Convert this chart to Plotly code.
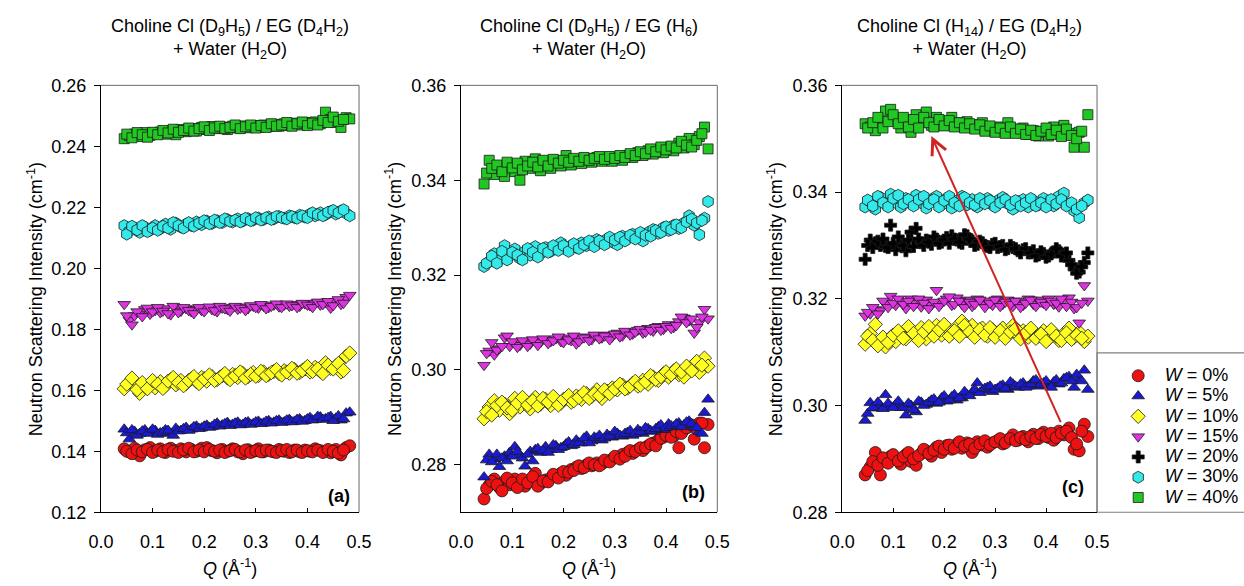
import plotly.graph_objects as go

# ---------------- data ----------------
# two interleaved Q grids (the reference shows densely packed points)
Q = [0.045, 0.055, 0.065, 0.075, 0.085, 0.095, 0.105, 0.115, 0.125, 0.135,
     0.145, 0.155, 0.165, 0.175, 0.185, 0.195, 0.205, 0.215, 0.225, 0.235,
     0.245, 0.255, 0.265, 0.275, 0.285, 0.295, 0.305, 0.315, 0.325, 0.335,
     0.345, 0.355, 0.365, 0.375, 0.385, 0.395, 0.405, 0.415, 0.425, 0.435,
     0.445, 0.455, 0.465, 0.475, 0.482]
Q2 = [0.050, 0.060, 0.070, 0.080, 0.090, 0.100, 0.110, 0.120, 0.130, 0.140,
      0.150, 0.160, 0.170, 0.180, 0.190, 0.200, 0.210, 0.220, 0.230, 0.240,
      0.250, 0.260, 0.270, 0.280, 0.290, 0.300, 0.310, 0.320, 0.330, 0.340,
      0.350, 0.360, 0.370, 0.380, 0.390, 0.400, 0.410, 0.420, 0.430, 0.440,
      0.450, 0.460, 0.470]

water_labels = ["0%", "5%", "10%", "15%", "20%", "30%", "40%"]

panel_titles = [
    "Choline Cl (D<sub>9</sub>H<sub>5</sub>) / EG (D<sub>4</sub>H<sub>2</sub>)<br>+ Water (H<sub>2</sub>O)",
    "Choline Cl (D<sub>9</sub>H<sub>5</sub>) / EG (H<sub>6</sub>)<br>+ Water (H<sub>2</sub>O)",
    "Choline Cl (H<sub>14</sub>) / EG (D<sub>4</sub>H<sub>2</sub>)<br>+ Water (H<sub>2</sub>O)",
]
panel_tags = ["(a)", "(b)", "(c)"]

# ---- panel (a) ----
a_w0 = [0.1408, 0.1398, 0.1410, 0.1385, 0.1405, 0.1412, 0.1400, 0.1408, 0.1396, 0.1410,
        0.1402, 0.1408, 0.1398, 0.1406, 0.1400, 0.1410, 0.1412, 0.1402, 0.1395, 0.1406,
        0.1400, 0.1408, 0.1398, 0.1392, 0.1405, 0.1400, 0.1408, 0.1398, 0.1404, 0.1398,
        0.1406, 0.1400, 0.1396, 0.1404, 0.1398, 0.1404, 0.1400, 0.1408, 0.1402, 0.1400,
        0.1395, 0.1406, 0.1388, 0.1412, 0.1418]
a_w0_b = [0.1400, 0.1392, 0.1404, 0.1398, 0.1406, 0.1396, 0.1404, 0.1398, 0.1406, 0.1400,
          0.1396, 0.1404, 0.1410, 0.1398, 0.1404, 0.1398, 0.1406, 0.1400, 0.1404, 0.1396,
          0.1402, 0.1406, 0.1398, 0.1404, 0.1396, 0.1402, 0.1398, 0.1404, 0.1400, 0.1396,
          0.1402, 0.1406, 0.1398, 0.1404, 0.1396, 0.1402, 0.1398, 0.1404, 0.1396, 0.1406,
          0.1400, 0.1394, 0.1404]
a_w5 = [0.1472, 0.1440, 0.1465, 0.1458, 0.1470, 0.1462, 0.1468, 0.1460, 0.1470, 0.1458,
        0.1475, 0.1468, 0.1478, 0.1472, 0.1482, 0.1476, 0.1485, 0.1480, 0.1492, 0.1486,
        0.1494, 0.1488, 0.1495, 0.1488, 0.1496, 0.1490, 0.1498, 0.1492, 0.1500, 0.1495,
        0.1502, 0.1496, 0.1504, 0.1498, 0.1506, 0.1500, 0.1510, 0.1504, 0.1512, 0.1506,
        0.1514, 0.1508, 0.1502, 0.1525, 0.1528]
a_w5_b = [0.1460, 0.1470, 0.1452, 0.1466, 0.1458, 0.1472, 0.1455, 0.1462, 0.1468, 0.1452,
          0.1466, 0.1474, 0.1468, 0.1480, 0.1474, 0.1482, 0.1478, 0.1488, 0.1482, 0.1490,
          0.1484, 0.1492, 0.1486, 0.1494, 0.1488, 0.1496, 0.1490, 0.1498, 0.1492, 0.1500,
          0.1494, 0.1502, 0.1496, 0.1504, 0.1498, 0.1506, 0.1502, 0.1514, 0.1504, 0.1510,
          0.1500, 0.1516, 0.1506]
a_w10 = [0.1605, 0.1628, 0.1615, 0.1590, 0.1612, 0.1622, 0.1608, 0.1628, 0.1615, 0.1635,
         0.1618, 0.1632, 0.1622, 0.1638, 0.1628, 0.1642, 0.1630, 0.1645, 0.1635, 0.1648,
         0.1640, 0.1652, 0.1642, 0.1655, 0.1645, 0.1658, 0.1648, 0.1660, 0.1652, 0.1662,
         0.1655, 0.1664, 0.1656, 0.1668, 0.1658, 0.1670, 0.1660, 0.1675, 0.1662, 0.1690,
         0.1672, 0.1680, 0.1660, 0.1712, 0.1722]
a_w10_b = [0.1620, 0.1640, 0.1602, 0.1625, 0.1605, 0.1632, 0.1620, 0.1606, 0.1630, 0.1642,
           0.1625, 0.1615, 0.1632, 0.1645, 0.1622, 0.1638, 0.1650, 0.1632, 0.1642, 0.1655,
           0.1635, 0.1648, 0.1660, 0.1640, 0.1652, 0.1646, 0.1662, 0.1648, 0.1658, 0.1668,
           0.1650, 0.1660, 0.1672, 0.1656, 0.1665, 0.1678, 0.1662, 0.1670, 0.1655, 0.1682,
           0.1670, 0.1688, 0.1665]
a_w15 = [0.1882, 0.1830, 0.1845, 0.1855, 0.1865, 0.1850, 0.1862, 0.1855, 0.1868, 0.1848,
         0.1870, 0.1860, 0.1868, 0.1858, 0.1866, 0.1862, 0.1870, 0.1865, 0.1858, 0.1870,
         0.1866, 0.1872, 0.1866, 0.1874, 0.1868, 0.1876, 0.1870, 0.1876, 0.1872, 0.1880,
         0.1874, 0.1880, 0.1876, 0.1882, 0.1876, 0.1884, 0.1878, 0.1886, 0.1880, 0.1888,
         0.1870, 0.1892, 0.1882, 0.1905, 0.1912]
a_w15_b = [0.1845, 0.1815, 0.1858, 0.1842, 0.1870, 0.1858, 0.1872, 0.1860, 0.1852, 0.1876,
           0.1855, 0.1872, 0.1862, 0.1852, 0.1872, 0.1858, 0.1874, 0.1862, 0.1876, 0.1868,
           0.1860, 0.1876, 0.1870, 0.1862, 0.1878, 0.1872, 0.1882, 0.1868, 0.1876, 0.1884,
           0.1872, 0.1884, 0.1878, 0.1872, 0.1886, 0.1880, 0.1872, 0.1890, 0.1882, 0.1892,
           0.1878, 0.1898, 0.1886]
a_w30 = [0.2140, 0.2122, 0.2132, 0.2118, 0.2135, 0.2125, 0.2140, 0.2130, 0.2145, 0.2128,
         0.2148, 0.2135, 0.2145, 0.2140, 0.2152, 0.2143, 0.2155, 0.2147, 0.2156, 0.2150,
         0.2160, 0.2152, 0.2162, 0.2155, 0.2163, 0.2158, 0.2165, 0.2160, 0.2168, 0.2162,
         0.2170, 0.2164, 0.2172, 0.2166, 0.2174, 0.2168, 0.2178, 0.2172, 0.2182, 0.2176,
         0.2186, 0.2178, 0.2188, 0.2180, 0.2172]
a_w30_b = [0.2112, 0.2138, 0.2126, 0.2140, 0.2120, 0.2132, 0.2125, 0.2138, 0.2132, 0.2150,
           0.2140, 0.2132, 0.2150, 0.2138, 0.2148, 0.2156, 0.2146, 0.2158, 0.2150, 0.2162,
           0.2154, 0.2158, 0.2152, 0.2164, 0.2156, 0.2166, 0.2158, 0.2166, 0.2160, 0.2170,
           0.2166, 0.2162, 0.2170, 0.2164, 0.2172, 0.2166, 0.2182, 0.2176, 0.2172, 0.2184,
           0.2190, 0.2182, 0.2192]
a_w40 = [0.2425, 0.2436, 0.2440, 0.2432, 0.2445, 0.2436, 0.2443, 0.2447, 0.2440, 0.2450,
         0.2438, 0.2455, 0.2448, 0.2458, 0.2450, 0.2462, 0.2455, 0.2465, 0.2458, 0.2463,
         0.2455, 0.2466, 0.2460, 0.2467, 0.2461, 0.2468, 0.2462, 0.2470, 0.2465, 0.2472,
         0.2466, 0.2474, 0.2468, 0.2476, 0.2470, 0.2478, 0.2472, 0.2480, 0.2474, 0.2512,
         0.2488, 0.2478, 0.2462, 0.2494, 0.2490]
a_w40_b = [0.2440, 0.2428, 0.2445, 0.2438, 0.2430, 0.2446, 0.2438, 0.2452, 0.2444, 0.2456,
           0.2446, 0.2452, 0.2460, 0.2450, 0.2458, 0.2464, 0.2452, 0.2460, 0.2466, 0.2458,
           0.2462, 0.2470, 0.2458, 0.2464, 0.2470, 0.2460, 0.2468, 0.2462, 0.2474, 0.2466,
           0.2470, 0.2478, 0.2466, 0.2474, 0.2480, 0.2468, 0.2476, 0.2470, 0.2485, 0.2478,
           0.2496, 0.2482, 0.2488]

# ---- panel (b) ----
b_w0 = [0.2728, 0.2757, 0.2770, 0.2752, 0.2765, 0.2758, 0.2770, 0.2762, 0.2755, 0.2768,
        0.2782, 0.2760, 0.2768, 0.2772, 0.2776, 0.2782, 0.2778, 0.2790, 0.2795, 0.2792,
        0.2800, 0.2798, 0.2804, 0.2802, 0.2808, 0.2812, 0.2816, 0.2822, 0.2826, 0.2824,
        0.2832, 0.2830, 0.2840, 0.2846, 0.2852, 0.2858, 0.2866, 0.2860, 0.2836, 0.2874,
        0.2880, 0.2854, 0.2888, 0.2836, 0.2885]
b_w0_b = [0.2750, 0.2765, 0.2758, 0.2745, 0.2772, 0.2762, 0.2752, 0.2770, 0.2762, 0.2775,
          0.2755, 0.2766, 0.2764, 0.2780, 0.2772, 0.2786, 0.2784, 0.2788, 0.2798, 0.2794,
          0.2804, 0.2800, 0.2798, 0.2810, 0.2806, 0.2818, 0.2812, 0.2818, 0.2830, 0.2828,
          0.2836, 0.2836, 0.2844, 0.2840, 0.2856, 0.2862, 0.2858, 0.2870, 0.2866, 0.2878,
          0.2884, 0.2876, 0.2888]
b_w5 = [0.2774, 0.2822, 0.2812, 0.2796, 0.2818, 0.2826, 0.2838, 0.2820, 0.2797, 0.2828,
        0.2832, 0.2826, 0.2838, 0.2832, 0.2840, 0.2836, 0.2844, 0.2840, 0.2852, 0.2846,
        0.2860, 0.2850, 0.2856, 0.2852, 0.2864, 0.2858, 0.2866, 0.2860, 0.2868, 0.2862,
        0.2874, 0.2866, 0.2876, 0.2870, 0.2880, 0.2874, 0.2886, 0.2880, 0.2888, 0.2884,
        0.2892, 0.2880, 0.2870, 0.2910, 0.2938]
b_w5_b = [0.2810, 0.2806, 0.2822, 0.2814, 0.2808, 0.2818, 0.2828, 0.2814, 0.2822, 0.2808,
          0.2834, 0.2830, 0.2826, 0.2842, 0.2832, 0.2838, 0.2848, 0.2842, 0.2846, 0.2856,
          0.2846, 0.2858, 0.2862, 0.2856, 0.2860, 0.2870, 0.2862, 0.2866, 0.2872, 0.2866,
          0.2870, 0.2878, 0.2872, 0.2876, 0.2884, 0.2878, 0.2882, 0.2886, 0.2880, 0.2890,
          0.2886, 0.2878, 0.2866]
b_w10 = [0.2897, 0.2922, 0.2935, 0.2915, 0.2928, 0.2908, 0.2940, 0.2922, 0.2932, 0.2918,
         0.2942, 0.2928, 0.2938, 0.2925, 0.2935, 0.2930, 0.2940, 0.2932, 0.2945, 0.2938,
         0.2950, 0.2944, 0.2958, 0.2940, 0.2955, 0.2962, 0.2958, 0.2968, 0.2962, 0.2972,
         0.2966, 0.2978, 0.2970, 0.2985, 0.2978, 0.2992, 0.2985, 0.2998, 0.2990, 0.2985,
         0.3004, 0.3012, 0.2995, 0.3025, 0.3008]
b_w10_b = [0.2912, 0.2905, 0.2925, 0.2932, 0.2920, 0.2915, 0.2930, 0.2942, 0.2926, 0.2935,
           0.2924, 0.2940, 0.2932, 0.2944, 0.2926, 0.2938, 0.2946, 0.2935, 0.2942, 0.2952,
           0.2940, 0.2950, 0.2946, 0.2958, 0.2950, 0.2960, 0.2970, 0.2960, 0.2966, 0.2976,
           0.2968, 0.2975, 0.2988, 0.2980, 0.2986, 0.2996, 0.2990, 0.3002, 0.2996, 0.3008,
           0.2998, 0.3018, 0.3010]
b_w15 = [0.3010, 0.3040, 0.3032, 0.3045, 0.3068, 0.3050, 0.3058, 0.3052, 0.3060, 0.3055,
         0.3062, 0.3058, 0.3064, 0.3060, 0.3066, 0.3060, 0.3068, 0.3062, 0.3055, 0.3066,
         0.3070, 0.3064, 0.3072, 0.3068, 0.3074, 0.3070, 0.3078, 0.3072, 0.3080, 0.3076,
         0.3084, 0.3078, 0.3088, 0.3082, 0.3092, 0.3086, 0.3096, 0.3090, 0.3102, 0.3110,
         0.3104, 0.3078, 0.3100, 0.3128, 0.3108]
b_w15_b = [0.3035, 0.3058, 0.3042, 0.3050, 0.3072, 0.3060, 0.3048, 0.3062, 0.3050, 0.3064,
           0.3052, 0.3066, 0.3056, 0.3062, 0.3070, 0.3058, 0.3064, 0.3072, 0.3060, 0.3068,
           0.3062, 0.3074, 0.3066, 0.3072, 0.3064, 0.3076, 0.3070, 0.3082, 0.3074, 0.3080,
           0.3086, 0.3080, 0.3084, 0.3090, 0.3084, 0.3092, 0.3088, 0.3094, 0.3112, 0.3100,
           0.3108, 0.3090, 0.3112]
b_w30 = [0.3218, 0.3228, 0.3245, 0.3232, 0.3262, 0.3240, 0.3255, 0.3235, 0.3250, 0.3242,
         0.3260, 0.3245, 0.3258, 0.3250, 0.3256, 0.3268, 0.3255, 0.3262, 0.3258, 0.3268,
         0.3262, 0.3270, 0.3275, 0.3268, 0.3276, 0.3270, 0.3264, 0.3282, 0.3278, 0.3286,
         0.3280, 0.3272, 0.3290, 0.3296, 0.3288, 0.3300, 0.3294, 0.3305, 0.3298, 0.3310,
         0.3325, 0.3305, 0.3285, 0.3320, 0.3355]
b_w30_b = [0.3225, 0.3240, 0.3225, 0.3250, 0.3232, 0.3248, 0.3242, 0.3232, 0.3256, 0.3248,
           0.3238, 0.3256, 0.3248, 0.3262, 0.3252, 0.3262, 0.3250, 0.3266, 0.3256, 0.3264,
           0.3272, 0.3260, 0.3272, 0.3264, 0.3280, 0.3274, 0.3280, 0.3272, 0.3284, 0.3276,
           0.3290, 0.3284, 0.3282, 0.3294, 0.3290, 0.3302, 0.3296, 0.3306, 0.3300, 0.3312,
           0.3318, 0.3310, 0.3315]
b_w40 = [0.3392, 0.3442, 0.3412, 0.3425, 0.3408, 0.3430, 0.3418, 0.3400, 0.3440, 0.3425,
         0.3445, 0.3420, 0.3438, 0.3425, 0.3440, 0.3430, 0.3452, 0.3432, 0.3440, 0.3435,
         0.3445, 0.3438, 0.3448, 0.3440, 0.3446, 0.3440, 0.3448, 0.3442, 0.3452, 0.3448,
         0.3458, 0.3452, 0.3462, 0.3455, 0.3465, 0.3458, 0.3468, 0.3462, 0.3478, 0.3468,
         0.3488, 0.3475, 0.3492, 0.3512, 0.3466]
b_w40_b = [0.3415, 0.3425, 0.3432, 0.3418, 0.3438, 0.3426, 0.3436, 0.3422, 0.3430, 0.3438,
           0.3428, 0.3442, 0.3430, 0.3444, 0.3436, 0.3442, 0.3438, 0.3446, 0.3440, 0.3448,
           0.3442, 0.3446, 0.3450, 0.3444, 0.3450, 0.3446, 0.3452, 0.3448, 0.3456, 0.3452,
           0.3460, 0.3456, 0.3466, 0.3460, 0.3470, 0.3464, 0.3472, 0.3468, 0.3482, 0.3474,
           0.3470, 0.3484, 0.3498]

# ---- panel (c) ----
c_w0 = [0.2870, 0.2885, 0.2912, 0.2870, 0.2898, 0.2905, 0.2900, 0.2890, 0.2908, 0.2895,
        0.2888, 0.2910, 0.2915, 0.2905, 0.2922, 0.2912, 0.2925, 0.2918, 0.2928, 0.2920,
        0.2930, 0.2912, 0.2932, 0.2926, 0.2922, 0.2930, 0.2934, 0.2928, 0.2936, 0.2945,
        0.2935, 0.2942, 0.2932, 0.2946, 0.2938, 0.2950, 0.2940, 0.2935, 0.2952, 0.2945,
        0.2958, 0.2918, 0.2915, 0.2965, 0.2942]
c_w0_b = [0.2878, 0.2895, 0.2888, 0.2902, 0.2892, 0.2908, 0.2896, 0.2904, 0.2912, 0.2900,
          0.2906, 0.2918, 0.2910, 0.2916, 0.2924, 0.2918, 0.2926, 0.2920, 0.2932, 0.2924,
          0.2928, 0.2920, 0.2928, 0.2934, 0.2926, 0.2932, 0.2938, 0.2930, 0.2938, 0.2934,
          0.2940, 0.2936, 0.2942, 0.2938, 0.2946, 0.2942, 0.2948, 0.2940, 0.2948, 0.2952,
          0.2940, 0.2928, 0.2952]
c_w5 = [0.2972, 0.3005, 0.2995, 0.3000, 0.3020, 0.2998, 0.3002, 0.2996, 0.2982, 0.3000,
        0.2988, 0.3006, 0.3002, 0.3010, 0.3004, 0.3014, 0.3008, 0.3016, 0.3010, 0.3014,
        0.3020, 0.3025, 0.3042, 0.3028, 0.3034, 0.3026, 0.3032, 0.3038, 0.3030, 0.3040,
        0.3034, 0.3042, 0.3036, 0.3046, 0.3036, 0.3042, 0.3038, 0.3044, 0.3040, 0.3050,
        0.3054, 0.3034, 0.3050, 0.3066, 0.3030]
c_w5_b = [0.2985, 0.2996, 0.3006, 0.2994, 0.3004, 0.2996, 0.3008, 0.2996, 0.3004, 0.2992,
          0.3008, 0.3000, 0.3006, 0.3012, 0.3006, 0.3018, 0.3010, 0.3020, 0.3014, 0.3026,
          0.3018, 0.3030, 0.3024, 0.3032, 0.3036, 0.3030, 0.3036, 0.3032, 0.3044, 0.3036,
          0.3040, 0.3034, 0.3040, 0.3048, 0.3040, 0.3046, 0.3034, 0.3048, 0.3042, 0.3052,
          0.3046, 0.3058, 0.3046]
c_w10 = [0.3115, 0.3135, 0.3152, 0.3118, 0.3110, 0.3128, 0.3120, 0.3135, 0.3125, 0.3142,
         0.3130, 0.3146, 0.3125, 0.3138, 0.3150, 0.3132, 0.3145, 0.3135, 0.3148, 0.3158,
         0.3140, 0.3150, 0.3135, 0.3145, 0.3130, 0.3142, 0.3135, 0.3145, 0.3132, 0.3150,
         0.3132, 0.3140, 0.3128, 0.3138, 0.3130, 0.3140, 0.3125, 0.3136, 0.3122, 0.3135,
         0.3145, 0.3128, 0.3138, 0.3120, 0.3130]
c_w10_b = [0.3130, 0.3122, 0.3112, 0.3128, 0.3118, 0.3132, 0.3140, 0.3126, 0.3148, 0.3135,
           0.3122, 0.3138, 0.3148, 0.3130, 0.3142, 0.3152, 0.3130, 0.3140, 0.3130, 0.3150,
           0.3138, 0.3128, 0.3142, 0.3132, 0.3146, 0.3128, 0.3140, 0.3126, 0.3138, 0.3144,
           0.3125, 0.3136, 0.3145, 0.3126, 0.3134, 0.3120, 0.3142, 0.3130, 0.3122, 0.3136,
           0.3124, 0.3132, 0.3126]
c_w15 = [0.3168, 0.3172, 0.3180, 0.3178, 0.3190, 0.3205, 0.3188, 0.3195, 0.3182, 0.3200,
         0.3192, 0.3185, 0.3198, 0.3188, 0.3216, 0.3192, 0.3200, 0.3188, 0.3202, 0.3190,
         0.3198, 0.3186, 0.3200, 0.3192, 0.3196, 0.3188, 0.3200, 0.3190, 0.3198, 0.3186,
         0.3196, 0.3188, 0.3200, 0.3190, 0.3198, 0.3192, 0.3200, 0.3190, 0.3185, 0.3198,
         0.3202, 0.3182, 0.3155, 0.3225, 0.3196]
c_w15_b = [0.3175, 0.3184, 0.3172, 0.3196, 0.3184, 0.3192, 0.3200, 0.3190, 0.3196, 0.3186,
           0.3200, 0.3192, 0.3182, 0.3194, 0.3186, 0.3196, 0.3204, 0.3190, 0.3196, 0.3184,
           0.3194, 0.3190, 0.3198, 0.3184, 0.3192, 0.3198, 0.3186, 0.3194, 0.3190, 0.3196,
           0.3184, 0.3192, 0.3198, 0.3186, 0.3194, 0.3188, 0.3196, 0.3192, 0.3200, 0.3186,
           0.3194, 0.3184, 0.3192]
c_w20 = [0.3274, 0.3310, 0.3305, 0.3300, 0.3298, 0.3338, 0.3292, 0.3305, 0.3290, 0.3325,
         0.3332, 0.3305, 0.3310, 0.3302, 0.3312, 0.3306, 0.3315, 0.3318, 0.3310, 0.3304,
         0.3318, 0.3308, 0.3302, 0.3305, 0.3298, 0.3302, 0.3296, 0.3300, 0.3294, 0.3296,
         0.3290, 0.3292, 0.3286, 0.3290, 0.3282, 0.3285, 0.3280, 0.3288, 0.3290, 0.3284,
         0.3272, 0.3256, 0.3250, 0.3268, 0.3286]
c_w20_b = [0.3300, 0.3296, 0.3308, 0.3312, 0.3296, 0.3304, 0.3316, 0.3300, 0.3310, 0.3298,
           0.3312, 0.3300, 0.3306, 0.3316, 0.3304, 0.3310, 0.3304, 0.3312, 0.3306, 0.3320,
           0.3312, 0.3300, 0.3308, 0.3300, 0.3296, 0.3304, 0.3298, 0.3292, 0.3300, 0.3294,
           0.3286, 0.3294, 0.3286, 0.3280, 0.3288, 0.3278, 0.3284, 0.3294, 0.3280, 0.3286,
           0.3264, 0.3248, 0.3260]
c_w30 = [0.3372, 0.3382, 0.3368, 0.3390, 0.3378, 0.3396, 0.3380, 0.3372, 0.3388, 0.3378,
         0.3394, 0.3380, 0.3370, 0.3386, 0.3392, 0.3376, 0.3388, 0.3370, 0.3384, 0.3392,
         0.3376, 0.3386, 0.3372, 0.3382, 0.3388, 0.3376, 0.3384, 0.3390, 0.3378, 0.3368,
         0.3382, 0.3386, 0.3372, 0.3384, 0.3376, 0.3388, 0.3380, 0.3374, 0.3392, 0.3398,
         0.3378, 0.3365, 0.3352, 0.3380, 0.3385]
c_w30_b = [0.3385, 0.3374, 0.3392, 0.3380, 0.3372, 0.3388, 0.3394, 0.3378, 0.3386, 0.3374,
           0.3386, 0.3392, 0.3378, 0.3386, 0.3372, 0.3384, 0.3392, 0.3380, 0.3374, 0.3390,
           0.3380, 0.3376, 0.3388, 0.3378, 0.3384, 0.3372, 0.3380, 0.3386, 0.3376, 0.3384,
           0.3374, 0.3380, 0.3388, 0.3374, 0.3380, 0.3372, 0.3386, 0.3378, 0.3386, 0.3374,
           0.3380, 0.3368, 0.3374]
c_w40 = [0.3528, 0.3522, 0.3515, 0.3530, 0.3552, 0.3555, 0.3538, 0.3520, 0.3535, 0.3512,
         0.3545, 0.3530, 0.3550, 0.3525, 0.3540, 0.3532, 0.3528, 0.3540, 0.3530, 0.3525,
         0.3532, 0.3526, 0.3522, 0.3530, 0.3520, 0.3515, 0.3522, 0.3516, 0.3530, 0.3518,
         0.3512, 0.3520, 0.3508, 0.3515, 0.3505, 0.3512, 0.3505, 0.3522, 0.3512, 0.3525,
         0.3510, 0.3484, 0.3512, 0.3484, 0.3545]
c_w40_b = [0.3520, 0.3530, 0.3540, 0.3520, 0.3532, 0.3545, 0.3528, 0.3540, 0.3522, 0.3536,
           0.3520, 0.3540, 0.3530, 0.3522, 0.3536, 0.3524, 0.3534, 0.3522, 0.3530, 0.3520,
           0.3528, 0.3518, 0.3526, 0.3514, 0.3524, 0.3512, 0.3520, 0.3510, 0.3522, 0.3510,
           0.3518, 0.3508, 0.3516, 0.3506, 0.3514, 0.3520, 0.3508, 0.3516, 0.3504, 0.3518,
           0.3506, 0.3500, 0.3514]

# arrow in panel (c): from (Q, I) to (Q, I)
arrow_from = (0.430, 0.2966)
arrow_to = (0.175, 0.3505)

# ---------------- styling ----------------
W, H = 1244, 586
FONT = "Liberation Sans, Arial, sans-serif"
TXT = 18

style = {
    "0%":  dict(symbol="circle", color="#ee1111", size=12),
    "5%":  dict(symbol="triangle-up", color="#1a1ad2", size=11),
    "10%": dict(symbol="diamond", color="#ffff22", size=11),
    "15%": dict(symbol="triangle-down", color="#dd33e0", size=11),
    "20%": dict(symbol="cross", color="#000000", size=10),
    "30%": dict(symbol="hexagon", color="#33eaea", size=12),
    "40%": dict(symbol="square", color="#22c822", size=10),
}

panels = [
    dict(series={"0%": (a_w0, a_w0_b), "5%": (a_w5, a_w5_b), "10%": (a_w10, a_w10_b),
                 "15%": (a_w15, a_w15_b), "30%": (a_w30, a_w30_b), "40%": (a_w40, a_w40_b)},
         yrange=[0.12, 0.26], ytick=[0.12, 0.14, 0.16, 0.18, 0.20, 0.22, 0.24, 0.26],
         xpx=(90, 354), ytitle_x=23, tag_px=(334, 503)),
    dict(series={"0%": (b_w0, b_w0_b), "5%": (b_w5, b_w5_b), "10%": (b_w10, b_w10_b),
                 "15%": (b_w15, b_w15_b), "30%": (b_w30, b_w30_b), "40%": (b_w40, b_w40_b)},
         yrange=[0.27, 0.36], ytick=[0.28, 0.30, 0.32, 0.34, 0.36],
         xpx=(458.3, 720.5), ytitle_x=390, tag_px=(696, 499)),
    dict(series={"0%": (c_w0, c_w0_b), "5%": (c_w5, c_w5_b), "10%": (c_w10, c_w10_b),
                 "15%": (c_w15, c_w15_b), "20%": (c_w20, c_w20_b), "30%": (c_w30, c_w30_b),
                 "40%": (c_w40, c_w40_b)},
         yrange=[0.28, 0.36], ytick=[0.28, 0.30, 0.32, 0.34, 0.36],
         xpx=(848.3, 1109), ytitle_x=780, tag_px=(1084, 494)),
]
YTOP, YBOT = 78, 520


def px(x):
    return x / W


def py(y):
    return 1 - y / H


fig = go.Figure()
annotations = []
shapes = []

for i, p in enumerate(panels):
    k = "" if i == 0 else str(i + 1)
    xa, ya = "x" + k, "y" + k
    for lab in water_labels:
        if lab not in p["series"]:
            continue
        st = style[lab]
        y1, y2 = p["series"][lab]
        fig.add_trace(go.Scatter(
            x=Q + Q2, y=y1 + y2, xaxis=xa, yaxis=ya, mode="markers",
            name="<span style='font-size:%dpx'><i>W</i> = %s</span>" % (TXT, lab),
            showlegend=(i == 2),
            marker=dict(symbol=st["symbol"], size=st["size"], color=st["color"],
                        line=dict(color="#1a1a1a", width=0.8)),
        ))
    x0, x1 = p["xpx"]
    fig.update_layout(**{
        "xaxis" + k: dict(domain=[px(x0), px(x1)], range=[0, 0.5], anchor=ya,
                          tickvals=[0.0, 0.1, 0.2, 0.3, 0.4, 0.5], tickformat=".1f",
                          ticks="inside", ticklen=4, tickcolor="black",
                          showline=True, linecolor="black", linewidth=1,
                          showgrid=False, zeroline=False, ticklabelstandoff=13,
                          tickfont=dict(family=FONT, size=TXT, color="black")),
        "yaxis" + k: dict(domain=[py(YBOT), py(YTOP)], range=p["yrange"], anchor=xa,
                          tickvals=p["ytick"], tickformat=".2f",
                          ticks="outside", ticklen=6, tickcolor="black",
                          showline=True, linecolor="black", linewidth=1,
                          showgrid=False, zeroline=False, ticklabelstandoff=4,
                          tickfont=dict(family=FONT, size=TXT, color="black")),
    })
    # top/right frame
    shapes.append(dict(type="line", xref="paper", yref="paper",
                       x0=px(x0), x1=px(x1), y0=py(YTOP), y1=py(YTOP),
                       line=dict(color="#6a6a6a", width=1), layer="below"))
    shapes.append(dict(type="line", xref="paper", yref="paper",
                       x0=px(x1), x1=px(x1), y0=py(YTOP), y1=py(YBOT),
                       line=dict(color="#6a6a6a", width=1), layer="below"))
    cx = (x0 + x1) / 2
    annotations.append(dict(text=panel_titles[i], x=px(cx), y=py(30), xref="paper", yref="paper",
                            showarrow=False, xanchor="center", yanchor="middle",
                            font=dict(family=FONT, size=TXT, color="black")))
    annotations.append(dict(text="Neutron Scattering Intensity (cm<sup>-1</sup>)",
                            x=px(p["ytitle_x"]), y=py((YTOP + YBOT) / 2), xref="paper", yref="paper",
                            showarrow=False, textangle=-90, xanchor="center", yanchor="middle",
                            font=dict(family=FONT, size=TXT, color="black")))
    annotations.append(dict(text="<i>Q</i> (Å<sup>-1</sup>)", x=px(cx), y=py(577),
                            xref="paper", yref="paper", showarrow=False,
                            xanchor="center", yanchor="middle",
                            font=dict(family=FONT, size=TXT, color="black")))
    annotations.append(dict(text="<b>" + panel_tags[i] + "</b>", x=px(p["tag_px"][0]), y=py(p["tag_px"][1]),
                            xref="paper", yref="paper", showarrow=False,
                            xanchor="center", yanchor="middle",
                            font=dict(family=FONT, size=TXT, color="black")))

# arrow
annotations.append(dict(x=arrow_to[0], y=arrow_to[1], ax=arrow_from[0], ay=arrow_from[1],
                        xref="x3", yref="y3", axref="x3", ayref="y3", text="",
                        showarrow=True, arrowhead=5, arrowsize=1.5, arrowwidth=2,
                        arrowcolor="#d02424"))

# legend box
shapes.append(dict(type="rect", xref="paper", yref="paper",
                   x0=px(1109), x1=px(1260), y0=py(520), y1=py(355),
                   line=dict(color="#808080", width=1.2), fillcolor="rgba(0,0,0,0)", layer="below"))

fig.update_layout(
    width=W, height=H, margin=dict(l=0, r=0, t=0, b=0),
    paper_bgcolor="white", plot_bgcolor="white",
    font=dict(family=FONT, size=TXT, color="black"),
    annotations=annotations, shapes=shapes,
    legend=dict(x=px(1124), y=py(363), xanchor="left", yanchor="top",
                bgcolor="rgba(0,0,0,0)", borderwidth=0, tracegroupgap=0,
                font=dict(family=FONT, size=13.3, color="black"), itemwidth=43),
)

fig.write_html("out.html", config={"displayModeBar": False},
               post_script="document.body.style.margin='0px';")
